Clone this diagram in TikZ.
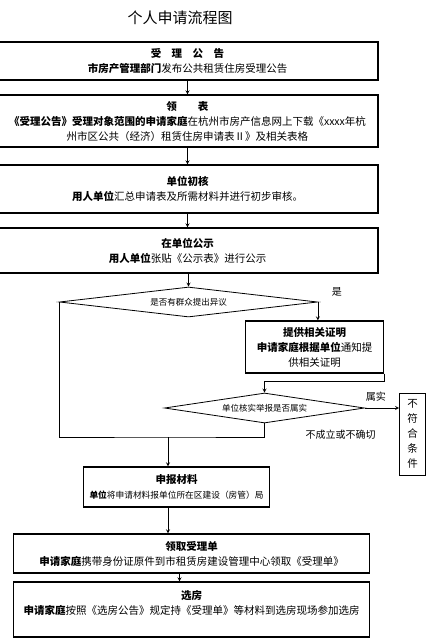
\documentclass[tikz,border=0pt]{standalone}
\usepackage{fontspec}
\setmainfont{Noto Sans CJK SC}
\usetikzlibrary{shapes.geometric, arrows}

\begin{document}
\begin{tikzpicture}[x=1pt, y=-1pt, node distance=60pt, font=\fontsize{10.5}{15}\selectfont]

    \tikzstyle{stepbox} = [rectangle, draw=black, line width=1.2pt, align=center, inner sep=2pt]
    \tikzstyle{decision} = [diamond, aspect=7, inner sep=0pt, draw=black, line width=0.8pt, font=\fontsize{8.5}{10}\selectfont]
    \tikzstyle{sidebox} = [rectangle, draw=black, line width=0.8pt, align=center, inner sep=1pt, minimum width=26pt, minimum height=82pt]
    \tikzstyle{tag} = [font=\fontsize{10}{12}\selectfont]
    \tikzstyle{arrow} = [line width=0.8pt,->,>=stealth]

    \useasboundingbox (0,0) rectangle (446,640);

    \node[font=\fontsize{15}{18}\selectfont] (title) at (180,18) {个人申请流程图};

    \node[stepbox, minimum width=381pt, minimum height=38pt] (gg) at (187.5,61)
        {\textbf{受\quad 理\quad 公\quad 告}\\\textbf{市房产管理部门}发布公共租赁住房受理公告};
    \node[stepbox, node distance=60pt, below of=gg, minimum width=381pt, minimum height=52pt] (lb)
        {\textbf{领\qquad 表}\\\textbf{《受理公告》受理对象范围的申请家庭}在杭州市房产信息网上下载《xxxx年杭\\州市区公共（经济）租赁住房申请表Ⅱ》及相关表格};
    \node[stepbox, node distance=68pt, below of=lb, minimum width=381pt, minimum height=48pt] (cs)
        {\textbf{单位初核}\\\textbf{用人单位}汇总申请表及所需材料并进行初步审核。};
    \node[stepbox, node distance=61.5pt, below of=cs, minimum width=381pt, minimum height=45pt] (gs)
        {\textbf{在单位公示}\\\textbf{用人单位}张贴《公示表》进行公示};
    \node[decision, node distance=51.5pt, below of=gs, xshift=1pt, minimum width=258pt, minimum height=30pt] (yy)
        {是否有群众提出异议};
    \node[stepbox, node distance=45pt, below of=yy, xshift=126pt, minimum width=138pt, minimum height=52pt] (zm)
        {\textbf{提供相关证明}\\\textbf{申请家庭根据单位}通知提\\供相关证明};
    \node[decision, node distance=61pt, below of=zm, xshift=-50pt, minimum width=200pt, minimum height=30pt] (hs)
        {单位核实举报是否属实};
    \node[sidebox, node distance=148pt, right of=hs, yshift=-26pt] (bfh)
        {不\\符\\合\\条\\件};
    \node[stepbox, node distance=79pt, below of=hs, xshift=-88pt, minimum width=186pt, minimum height=40pt] (sb)
        {\textbf{申报材料}\\{\fontsize{8.7}{12}\selectfont\textbf{单位}将申请材料报单位所在区建设（房管）局}};
    \node[stepbox, node distance=66.5pt, below of=sb, xshift=15pt, minimum width=356pt, minimum height=39pt] (lq)
        {\textbf{领取受理单}\\\textbf{申请家庭}携带身份证原件到市租赁房建设管理中心领取《受理单》};
    \node[stepbox, node distance=56pt, below of=lq, minimum width=356pt, minimum height=55pt] (xf)
        {\textbf{选房}\\\textbf{申请家庭}按照《选房公告》规定持《受理单》等材料到选房现场参加选房\\\mbox{}};

    % labels on the branches
    \node[tag] (shi) at ([xshift=19pt, yshift=10pt]yy.east) {是};
    \node[tag] (ss) at ([xshift=11pt, yshift=11pt]hs.east) {属实};
    \node[tag] (bcl) at ([xshift=76pt, yshift=-11pt]hs.south) {不成立或不确切};

    \coordinate (hb) at (168,437);

    \draw[arrow] (gg) -- (lb);
    \draw[arrow] (lb) -- (cs);
    \draw[arrow] (cs) -- (gs);
    \draw[arrow] (gs.south -| yy.north) -- (yy.north);
    \draw[arrow] (yy.east) -- (yy.east |- zm.north);
    \draw[arrow] (zm.south east) -- ++(0,8) -| (hs.north);
    \draw[arrow] (hs.east) -- (hs.east -| bfh.west);
    \draw[line width=0.8pt] (yy.west) |- (hb) -| (hs.south);
    \draw[arrow] (hb) -- (hb |- sb.north);
    \draw[arrow] (hb |- sb.south) -- (hb |- lq.north);
    \draw[arrow] ([xshift=-12pt]lq.south) -- ([xshift=-12pt]lq.south |- xf.north);

\end{tikzpicture}
\end{document}
